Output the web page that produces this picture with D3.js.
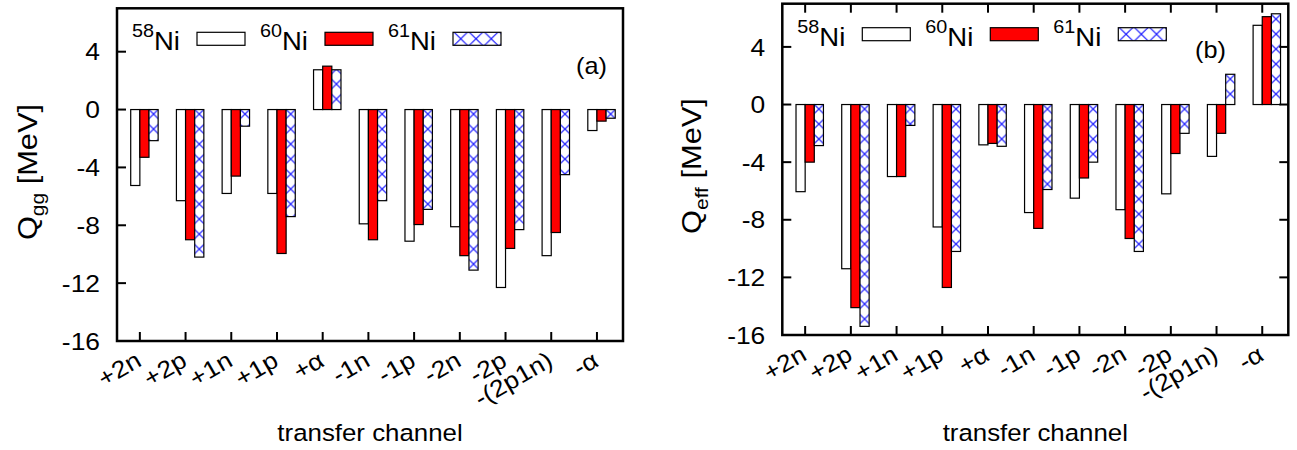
<!DOCTYPE html>
<html><head><meta charset="utf-8">
<script src="https://cdn.jsdelivr.net/npm/d3@7"></script>
<style>body{margin:0;background:#fff}svg{display:block}text{font-family:"Liberation Sans",Arial,Helvetica,sans-serif;fill:#000}</style>
</head><body>
<svg id="chart" width="1297" height="450"></svg>
<script>
const categories = ["+2n","+2p","+1n","+1p","+\u03b1","-1n","-1p","-2n","-2p","-(2p1n)","-\u03b1"];
const qgg58 = [-5.25, -6.3, -5.8, -5.8, 2.75, -7.9, -9.1, -8.1, -12.3, -10.1, -1.45];
const qgg60 = [-3.3, -9.0, -4.6, -9.95, 3.0, -9.0, -7.95, -10.1, -9.6, -8.5, -0.8];
const qgg61 = [-2.15, -10.2, -1.15, -7.4, 2.75, -6.3, -6.9, -11.1, -8.3, -4.5, -0.6];
const qeff58 = [-6.05, -11.4, -5.0, -8.5, -2.8, -7.5, -6.5, -7.3, -6.2, -3.6, 5.5];
const qeff60 = [-4.0, -14.1, -5.0, -12.7, -2.7, -8.6, -5.1, -9.3, -3.4, -2.0, 6.1];
const qeff61 = [-2.85, -15.4, -1.45, -10.2, -2.9, -5.9, -4.0, -10.2, -2.0, 2.1, 6.3];
const yTicks = [-16, -12, -8, -4, 0, 4];
const seriesNames = ["58", "60", "61"];

const FS = 23, SX = 1.1;
const svg = d3.select("#chart");
const defs = svg.append("defs");

function makeHatch(id, x0, y0, w, h) {
  const p = defs.append("pattern").attr("id", id).attr("patternUnits", "userSpaceOnUse")
    .attr("x", x0).attr("y", y0).attr("width", w).attr("height", h);
  p.append("rect").attr("width", w).attr("height", h).attr("fill", "#fff");
  p.append("path").attr("d", `M0,0L${w},${h}M${w},0L0,${h}`)
    .attr("stroke", "#0000ff").attr("stroke-width", 1).attr("fill", "none");
}

function txt(g, x, y, parts, opt = {}) {
  const t = g.append("text")
    .attr("transform", `translate(${x},${y}) rotate(${opt.rot || 0}) scale(${SX},1)`)
    .attr("text-anchor", opt.anchor || "start")
    .attr("font-size", opt.size || FS);
  if (opt.dy) t.attr("dy", opt.dy);
  if (typeof parts === "string") { t.text(parts); return t; }
  parts.forEach(p => {
    const s = t.append("tspan").text(p.t);
    if (p.size) s.attr("font-size", p.size);
    if (p.dy) s.attr("dy", p.dy);
  });
  return t;
}

function panel(cfg) {
  const g = svg.append("g");
  const x = d3.scaleLinear().domain([-0.5, 10.57]).range([cfg.left, cfg.right]);
  const y = d3.scaleLinear().domain([-16, 7]).range([cfg.bottom, cfg.top]);
  const bw = 0.2;
  const tileW = (x(1) - x(0)) / 3;
  const hid = "hatch_" + cfg.name, lid = "lhatch_" + cfg.name;
  makeHatch(hid, x(0.3) - tileW / 2, y(0) + 4.5 - 7.5, tileW, 15);

  const series = [cfg.s58, cfg.s60, cfg.s61];
  const fills = ["#fff", "#ff0000", `url(#${hid})`];
  series.forEach((vals, k) => {
    g.append("g").selectAll("rect").data(vals).join("rect")
      .attr("x", (d, i) => x(i + (k - 1) * bw))
      .attr("width", x(bw) - x(0))
      .attr("y", d => y(Math.max(0, d)))
      .attr("height", d => Math.abs(y(d) - y(0)))
      .attr("fill", fills[k])
      .attr("stroke", "#000").attr("stroke-width", 1.2);
  });

  g.append("rect").attr("x", cfg.left).attr("y", cfg.top)
    .attr("width", cfg.right - cfg.left).attr("height", cfg.bottom - cfg.top)
    .attr("fill", "none").attr("stroke", "#000").attr("stroke-width", 2.5);

  const TL = 9;
  yTicks.forEach(v => {
    g.append("line").attr("x1", cfg.left).attr("x2", cfg.left + TL)
      .attr("y1", y(v)).attr("y2", y(v)).attr("stroke", "#000").attr("stroke-width", 2);
    if (cfg.mirror) g.append("line").attr("x1", cfg.right).attr("x2", cfg.right - TL)
      .attr("y1", y(v)).attr("y2", y(v)).attr("stroke", "#000").attr("stroke-width", 2);
    txt(g, cfg.left - 17, y(v), String(v), { anchor: "end", dy: "0.36em", size: 24 });
  });
  categories.forEach((c, i) => {
    g.append("line").attr("x1", x(i)).attr("x2", x(i))
      .attr("y1", cfg.bottom).attr("y2", cfg.bottom - TL).attr("stroke", "#000").attr("stroke-width", 2);
    if (cfg.mirror) g.append("line").attr("x1", x(i)).attr("x2", x(i))
      .attr("y1", cfg.top).attr("y2", cfg.top + TL).attr("stroke", "#000").attr("stroke-width", 2);
    txt(g, x(i) + 3, cfg.bottom + 24, c, { anchor: "end", rot: -30, size: 24 });
  });

  txt(g, (cfg.left + cfg.right) / 2, 441, "transfer channel", { anchor: "middle", size: 23.5 });
  txt(g, cfg.yLabX, cfg.yLabY, [{ t: "Q" }, { t: cfg.sub, size: 19, dy: 7 }, { t: " [MeV]", size: 28, dy: -7 }],
      { anchor: "middle", rot: -90, size: 28 });

  const ly = cfg.top + 24;
  makeHatch(lid, cfg.left + 335 + 24 - tileW / 2, ly + 6.5 - 7.5, tileW, 15);
  const lfills = ["#fff", "#ff0000", `url(#${lid})`];
  seriesNames.forEach((n, k) => {
    const bx = cfg.left + k * 128;
    txt(g, bx + 15, ly + 18, [{ t: n, size: 18, dy: -13 }, { t: "Ni", size: 25, dy: 13 }]);
    g.append("rect").attr("x", bx + 80).attr("y", ly).attr("width", 48).attr("height", 13)
      .attr("fill", lfills[k]).attr("stroke", "#000").attr("stroke-width", 1.2);
  });
  txt(g, cfg.tagX, cfg.tagY, cfg.tag, { anchor: "end", size: 23 });
}

panel({ name: "a", left: 117, right: 623, top: 8.3, bottom: 341, s58: qgg58, s60: qgg60, s61: qgg61,
        sub: "gg", yLabX: 37, yLabY: 172, tag: "(a)", tagX: 607, tagY: 74, mirror: false });
panel({ name: "b", left: 782.3, right: 1288.3, top: 3.7, bottom: 335, s58: qeff58, s60: qeff60, s61: qeff61,
        sub: "eff", yLabX: 701, yLabY: 166, tag: "(b)", tagX: 1226, tagY: 58, mirror: true });
</script>
</body></html>
